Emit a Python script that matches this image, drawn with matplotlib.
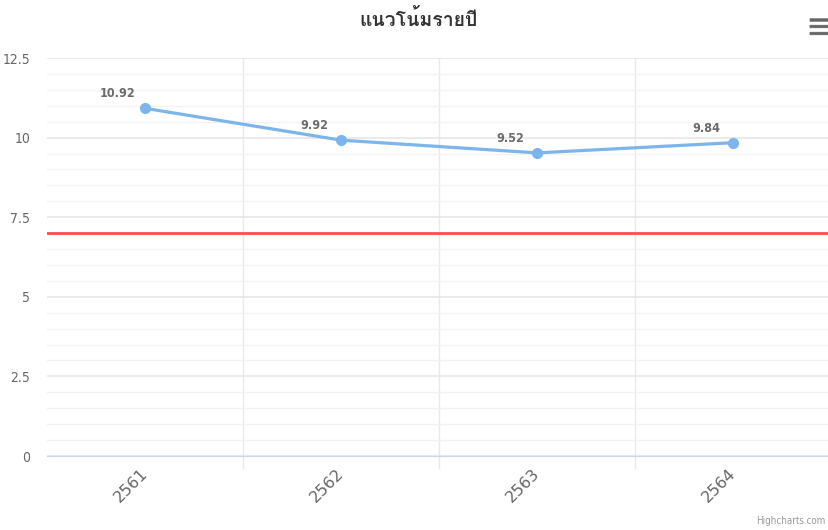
import numpy as np
import matplotlib
matplotlib.use('Agg')
import matplotlib.pyplot as plt
from matplotlib import font_manager
from matplotlib.ft2font import FT2Font
from matplotlib.patches import FancyBboxPatch

# ==================== 数据 ====================
title = 'แนวโน้มรายปี'
years = ['2561', '2562', '2563', '2564']
values = [10.92, 9.92, 9.52, 9.84]
target = 7
y_ticks = [0, 2.5, 5, 7.5, 10, 12.5]
y_tick_labels = ['0', '2.5', '5', '7.5', '10', '12.5']


def find_font(ch):
    # 找一个带泰文字形的字体
    for f in font_manager.fontManager.ttflist:
        try:
            if ord(ch) in FT2Font(f.fname).get_charmap():
                return f.name
        except Exception:
            pass
    return 'DejaVu Sans'


thai = find_font('แ')
plt.rcParams['font.family'] = ['DejaVu Sans']

W, H = 829, 530
fig = plt.figure(figsize=(W / 100, H / 100), dpi=100)
ax = fig.add_axes([47 / W, 74 / H, 784 / W, 398 / H])

x = np.arange(len(years))

# 网格
ax.set_ylim(0, 12.5)
ax.set_xlim(-0.5, len(years) - 0.5)
ax.set_yticks(y_ticks)
ax.set_yticklabels(y_tick_labels, fontstretch='condensed')
ax.set_yticks(np.arange(0, 12.51, 0.5), minor=True)
ax.yaxis.grid(True, which='major', color='#e6e6e6', linewidth=1.2)
ax.yaxis.grid(True, which='minor', color='#f2f2f2', linewidth=1)
ax.tick_params(axis='y', which='both', length=0, pad=12, labelsize=10, labelcolor='#666666')

ax.set_xticks(x)
ax.set_xticklabels(years, rotation=45, ha='right', va='center', rotation_mode='anchor',
                   fontsize=11.5, color='#666666')
ax.set_xticks(x[:-1] + 0.5, minor=True)
ax.xaxis.grid(True, which='minor', color='#e6e9f0', linewidth=1)
ax.tick_params(axis='x', which='major', length=0, pad=11)
ax.tick_params(axis='x', which='minor', length=9, color='#e6e9f0', width=1)
ax.set_axisbelow(True)

for s in ['top', 'right', 'left']:
    ax.spines[s].set_visible(False)
ax.spines['bottom'].set_color('#ccd6eb')

# 目标线
ax.axhline(target, color='#ff4d4d', linewidth=2, zorder=2)

# 折线
ax.plot(x, values, color='#7cb5ec', linewidth=2.3, marker='o', markersize=7, zorder=3)
for xi, v in zip(x, values):
    ax.annotate(f'{v:.2f}', (xi, v), xytext=(-19.5, 10.5), textcoords='offset points',
                ha='center', va='center', fontsize=9, fontweight='bold',
                color='#6b6b6b', fontstretch='condensed')

fig.text(0.505, 1 - 20 / H, title, ha='center', va='center', fontsize=14,
         fontweight='bold', color='#333333', family=[thai, 'DejaVu Sans'])

# 菜单图标
for yy in [20, 26.5, 33.5]:
    fig.add_artist(FancyBboxPatch((810 / W, 1 - (yy + 1.2) / H), 18 / W, 2.4 / H,
                                  boxstyle='round,pad=0', transform=fig.transFigure,
                                  facecolor='#666666', edgecolor='#666666', linewidth=0.6))

fig.text(1 - 3 / W, 4 / H, 'Highcharts.com', ha='right', va='bottom', fontsize=7,
         color='#999999', fontstretch='condensed')

plt.savefig('out.png', dpi=100)
